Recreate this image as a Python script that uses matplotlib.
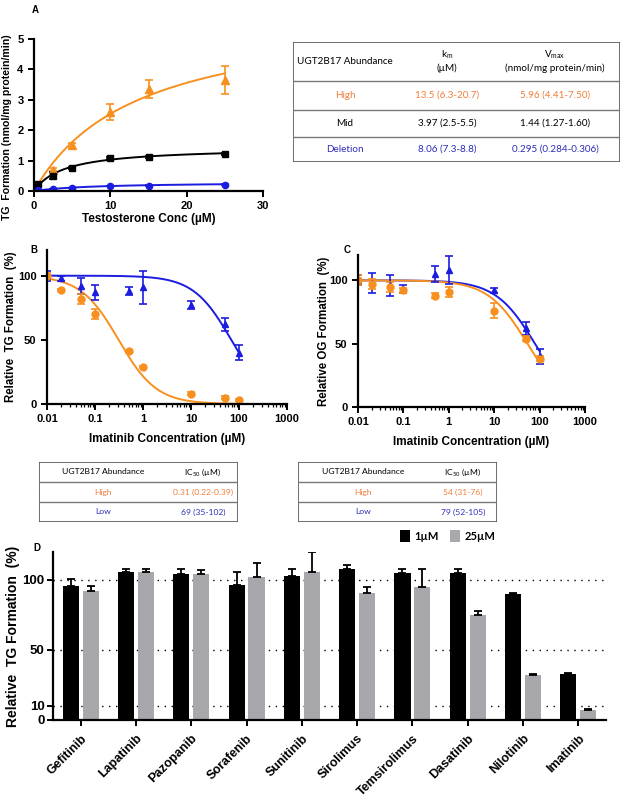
import numpy as np
import matplotlib
matplotlib.use("Agg")
import matplotlib.pyplot as plt
from matplotlib.patches import Rectangle

plt.rcParams['font.family'] = ['Liberation Sans', 'DejaVu Sans']
plt.rcParams['font.weight'] = 'bold'
plt.rcParams['axes.labelweight'] = 'bold'

ORANGE = '#f7901e'
BLUE = '#1c1ce0'
TXT_OR = '#f07f3a'
TXT_BL = '#2d2db8'
GREY = '#a8a8ac'

# ---- panel A data (testosterone conc, TG formation)
conc_a = [0.5, 2.5, 5, 10, 15, 25]
high_a = [0.02, 0.7, 1.5, 2.6, 3.35, 3.65]
high_a_err = [0.02, 0.05, 0.07, 0.25, 0.3, 0.45]
mid_a = [0.22, 0.5, 0.75, 1.08, 1.12, 1.22]
mid_a_err = [0.03, 0.12, 0.04, 0.04, 0.03, 0.03]
del_a = [0.02, 0.07, 0.1, 0.16, 0.18, 0.21]
del_a_err = [0.01, 0.01, 0.01, 0.01, 0.01, 0.01]
km_a = {'High': 13.5, 'Mid': 3.97, 'Deletion': 8.06}
vmax_a = {'High': 5.96, 'Mid': 1.44, 'Deletion': 0.295}

# ---- panels B, C data (imatinib conc, relative formation %)
conc_bc = [0.01, 0.02, 0.05, 0.1, 0.5, 1, 10, 50, 100]
high_b = [100, 89, 82, 70, 41, 29, 8, 5, 3]
high_b_err = [2, 1, 4, 4, 1, 1, 1, 1, 1]
low_b = [100, 98, 92, 87, 88, 91, 77, 62, 40]
low_b_err = [4, 2, 6, 6, 3, 13, 3, 5, 6]
high_c = [100, 97, 95, 92, 88, 91, 76, 54, 38]
high_c_err = [4, 4, 4, 2, 2, 4, 6, 2, 2]
low_c = [100, 98, 96, 93, 105, 108, 92, 62, 40]
low_c_err = [4, 8, 8, 3, 6, 11, 2, 5, 6]
ic50_b = {'High': 0.31, 'Low': 69}
ic50_c = {'High': 54, 'Low': 79}
hill_b = 1.1
hill_c = 1.0

# ---- panel D data
drugs = ['Gefitinib', 'Lapatinib', 'Pazopanib', 'Sorafenib', 'Sunitinib',
         'Sirolimus', 'Temsirolimus', 'Dasatinib', 'Nilotinib', 'Imatinib']
d_1um = [96, 106, 104.5, 96.5, 103, 108, 105, 105, 90.2, 33]
d_1um_err = [5, 2, 3.5, 9, 5, 2.7, 3, 3, 0.4, 0.3]
d_25um = [92, 106, 104.5, 102.5, 106, 90.5, 95, 75, 32, 7]
d_25um_err = [4, 2, 2.5, 9.5, 14, 4.7, 13, 2.6, 0.6, 0.6]

fig = plt.figure(figsize=(6.25, 8), dpi=100)


def style_axes(ax):
    for s in ['top', 'right']:
        ax.spines[s].set_visible(False)
    for s in ['left', 'bottom']:
        ax.spines[s].set_linewidth(1.6)
    ax.tick_params(width=1.4, length=4, labelsize=8)
    ax.tick_params(which='minor', width=0.9, length=2.5)


def px(x0, y0, x1, y1):
    # pixel box -> figure fraction [left, bottom, width, height]
    return [x0 / 625, 1 - y1 / 800, (x1 - x0) / 625, (y1 - y0) / 800]


# ================= A
ax = fig.add_axes(px(34, 39, 263, 191))
xs = np.linspace(0, 25, 200)
for name, ys, err, col, mk, ms in [('High', high_a, high_a_err, ORANGE, '^', 5.5),
                                    ('Mid', mid_a, mid_a_err, 'black', 's', 5),
                                    ('Deletion', del_a, del_a_err, BLUE, 'o', 4.5)]:
    ax.plot(xs, vmax_a[name] * xs / (km_a[name] + xs), color=col, lw=1.4)
    ax.errorbar(conc_a, ys, yerr=err, fmt=mk, color=col, ms=ms, capsize=3,
                elinewidth=1.2, capthick=1.2)
ax.set_xlim(0, 30)
ax.set_ylim(0, 5)
ax.set_xticks([0, 10, 20, 30])
style_axes(ax)
ax.set_xlabel('Testosterone Conc (µM)', fontsize=8.5, labelpad=1)
ax.set_ylabel('TG  Formation (nmol/mg protein/min)', fontsize=7.6)
ax.yaxis.set_label_coords(-0.095, 0.42)
fig.text(32 / 625, 1 - 10 / 800, 'A', fontsize=7, fontweight='bold', va='center')


def draw_table(box, hlines, cells, fontsize=7.1):
    tx = fig.add_axes(px(*box))
    tx.set_xlim(box[0], box[2])
    tx.set_ylim(box[3], box[1])
    tx.axis('off')
    tx.add_patch(Rectangle((box[0], box[1]), box[2] - box[0], box[3] - box[1],
                           fill=False, ec='#555555', lw=1.2))
    for y in hlines:
        tx.plot([box[0], box[2]], [y, y], color='#777777', lw=1.0)
    for x, y, s, c in cells:
        tx.text(x, y, s, ha='center', va='center', color=c, fontsize=fontsize,
                family=['Lato', 'DejaVu Sans'], fontweight='normal', linespacing=1.3)


draw_table((293, 42, 620, 162), [81, 110, 136.5],
           [(345, 61, 'UGT2B17 Abundance', 'black'),
            (447, 61, 'k$_\\mathregular{m}$\n(µM)', 'black'),
            (555, 61, 'V$_\\mathregular{max}$\n(nmol/mg protein/min)', 'black'),
            (345, 95.5, 'High', TXT_OR), (447, 95.5, '13.5 (6.3-20.7)', TXT_OR),
            (555, 95.5, '5.96 (4.41-7.50)', TXT_OR),
            (345, 123, 'Mid', 'black'), (447, 123, '3.97 (2.5-5.5)', 'black'),
            (555, 123, '1.44 (1.27-1.60)', 'black'),
            (345, 149, 'Deletion', TXT_BL), (447, 149, '8.06 (7.3-8.8)', TXT_BL),
            (555, 149, '0.295 (0.284-0.306)', TXT_BL)])


# ================= B, C
def ic50_panel(box, high, high_err, low, low_err, ic50, hill, ylabel, letter, lpos):
    ax = fig.add_axes(px(*box))
    xs = np.logspace(-2, 2, 300)
    ax.plot(xs, 100 / (1 + (xs / ic50['Low']) ** hill), color=BLUE, lw=1.4)
    ax.plot(xs, 100 / (1 + (xs / ic50['High']) ** hill), color=ORANGE, lw=1.4)
    ax.errorbar(conc_bc, low, yerr=low_err, fmt='^', color=BLUE, ms=5, capsize=3,
                elinewidth=1.2, capthick=1.2)
    ax.errorbar(conc_bc, high, yerr=high_err, fmt='o', color=ORANGE, ms=5, capsize=3,
                elinewidth=1.2, capthick=1.2)
    ax.set_xscale('log')
    ax.set_xlim(0.01, 1000)
    ax.set_ylim(0, 120)
    ax.set_yticks([0, 50, 100])
    ax.set_xticks([0.01, 0.1, 1, 10, 100, 1000])
    ax.set_xticklabels(['0.01', '0.1', '1', '10', '100', '1000'])
    style_axes(ax)
    ax.set_xlabel('Imatinib Concentration (µM)', fontsize=8.5, labelpad=6)
    ax.set_ylabel(ylabel, fontsize=8.3)
    ax.yaxis.set_label_coords(-0.125, 0.5)
    fig.text(lpos[0] / 625, 1 - lpos[1] / 800, letter, fontsize=7, fontweight='bold',
             va='center')


ic50_panel((47, 250, 287, 404), high_b, high_b_err, low_b, low_b_err, ic50_b, hill_b,
           'Relative  TG Formation  (%)', 'B', (30, 250))
ic50_panel((358, 255, 585, 407), high_c, high_c_err, low_c, low_c_err, ic50_c, hill_c,
           'Relative OG Formation  (%)', 'C', (344, 250))

draw_table((39, 462, 238, 522), [482, 502],
           [(103, 472, 'UGT2B17 Abundance', 'black'),
            (203, 472, 'IC$_\\mathregular{50}$ (µM)', 'black'),
            (103, 492, 'High', TXT_OR), (203, 492, '0.31 (0.22-0.39)', TXT_OR),
            (103, 512, 'Low', TXT_BL), (203, 512, '69 (35-102)', TXT_BL)], fontsize=6.1)
draw_table((298, 462, 497, 522), [482, 502],
           [(363, 472, 'UGT2B17 Abundance', 'black'),
            (463, 472, 'IC$_\\mathregular{50}$ (µM)', 'black'),
            (363, 492, 'High', TXT_OR), (463, 492, '54 (31-76)', TXT_OR),
            (363, 512, 'Low', TXT_BL), (463, 512, '79 (52-105)', TXT_BL)], fontsize=6.1)

# ================= D
ax = fig.add_axes(px(53, 552, 606, 720))
idx = np.arange(len(drugs))
w = 0.29
for y in [10, 50, 100]:
    ax.axhline(y, color='black', lw=1.0, ls=(0, (1, 4)), zorder=0)
ax.bar(idx - 0.18, d_1um, w, color='black', zorder=2, label='1µM',
       yerr=[np.zeros(len(drugs)), d_1um_err], capsize=3,
       error_kw=dict(ecolor='black', elinewidth=1.3, capthick=1.3))
ax.bar(idx + 0.18, d_25um, w, color=GREY, zorder=2, label='25µM',
       yerr=[np.zeros(len(drugs)), d_25um_err], capsize=3,
       error_kw=dict(ecolor='black', elinewidth=1.3, capthick=1.3))
ax.set_xlim(-0.5, len(drugs) - 0.5)
ax.set_ylim(0, 120)
ax.set_yticks([0, 10, 50, 100])
ax.set_xticks(idx)
style_axes(ax)
ax.tick_params(axis='y', labelsize=9.5, pad=2)
ax.tick_params(axis='x', pad=5)
ax.set_xticklabels(drugs, rotation=45, ha='right', rotation_mode='anchor', fontsize=9)
ax.set_ylabel('Relative  TG Formation  (%)', fontsize=10, labelpad=2)
ax.legend(loc='upper left', bbox_to_anchor=(0.61, 1.19), ncol=2, frameon=False,
          handlelength=0.9, handleheight=1.3, columnspacing=1.0,
          handletextpad=0.4, prop={'family': ['Lato', 'DejaVu Sans'], 'size': 8})
fig.text(33 / 625, 1 - 548 / 800, 'D', fontsize=7, fontweight='bold', va='center')

fig.savefig('out.png', dpi=100)
